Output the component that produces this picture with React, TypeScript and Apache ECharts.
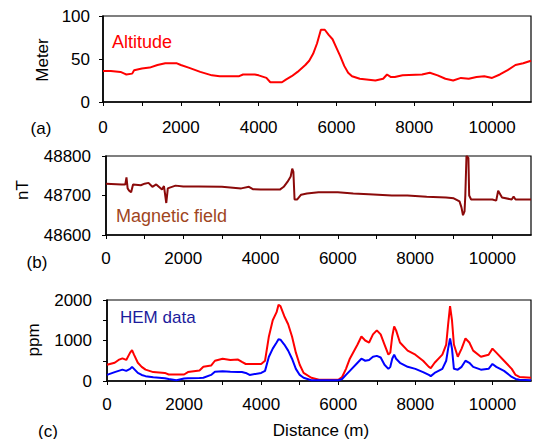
import React, { useEffect, useRef } from "react";
import * as echarts from "echarts";

// Panel (a): altitude
const altX = [0, 200, 450, 550, 600, 750, 800, 1000, 1200, 1400, 1600, 1900, 2000, 2200, 2500, 2800, 3000, 3500, 3600, 3900, 4000, 4200, 4300, 4600, 4700, 4850, 5000, 5200, 5300, 5400, 5500, 5600, 5700, 5800, 5900, 6000, 6100, 6200, 6300, 6400, 6600, 7000, 7200, 7300, 7400, 7500, 7700, 8200, 8400, 8600, 8800, 9000, 9200, 9400, 9600, 9800, 10000, 10200, 10400, 10600, 10800, 11000];
const altY = [36, 36, 35, 33, 32, 33, 37, 39, 40, 43, 45, 45, 43, 40, 35, 31, 30, 30, 32, 32, 31, 28, 23, 23, 26, 30, 35, 43, 48, 56, 68, 84, 84, 78, 73, 63, 53, 42, 34, 30, 27, 25, 27, 32, 29, 29, 31, 32, 34, 31, 27, 25, 28, 27, 29, 30, 28, 32, 37, 43, 45, 48];

// Panel (b): magnetic field
const magX = [0, 400, 500, 530, 560, 600, 650, 700, 900, 1000, 1100, 1200, 1300, 1450, 1500, 1560, 1600, 1650, 1800, 2000, 2400, 3000, 3500, 3700, 3800, 4000, 4500, 4600, 4700, 4780, 4820, 4850, 4880, 4950, 5050, 5200, 5500, 6000, 6400, 6800, 7400, 7800, 8300, 8800, 9000, 9150, 9200, 9240, 9280, 9300, 9330, 9380, 9400, 9450, 9500, 10000, 10100, 10150, 10250, 10500, 10550, 10600, 11000];
const magY = [48730, 48728, 48728, 48746, 48718, 48712, 48708, 48728, 48726, 48730, 48732, 48722, 48728, 48715, 48724, 48681, 48718, 48720, 48725, 48723, 48723, 48722, 48718, 48722, 48716, 48715, 48715, 48722, 48735, 48748, 48768, 48760, 48690, 48690, 48702, 48705, 48708, 48708, 48705, 48703, 48700, 48700, 48697, 48695, 48693, 48685, 48670, 48650, 48660, 48700, 48800, 48795, 48700, 48690, 48690, 48690, 48687, 48712, 48695, 48690, 48697, 48690, 48690];

// Panel (c): HEM data
const hemX = [0, 200, 300, 400, 500, 600, 650, 700, 800, 900, 1000, 1200, 1500, 1600, 1800, 2000, 2100, 2400, 2500, 2700, 2800, 3000, 3200, 3400, 3500, 3600, 3700, 4000, 4100, 4200, 4300, 4400, 4450, 4500, 4600, 4700, 4800, 4900, 5000, 5100, 5300, 5500, 6000, 6100, 6200, 6300, 6500, 6600, 6700, 6800, 6900, 7000, 7100, 7200, 7300, 7350, 7400, 7450, 7500, 7600, 7800, 8000, 8200, 8350, 8400, 8500, 8700, 8800, 8850, 8900, 8950, 9000, 9100, 9200, 9300, 9400, 9500, 9700, 9900, 10000, 10100, 10300, 10500, 10600, 10700, 11000];
const hemRed = [400, 450, 520, 560, 520, 700, 760, 650, 450, 350, 280, 220, 200, 160, 160, 160, 220, 260, 350, 380, 500, 550, 520, 530, 470, 420, 420, 420, 500, 1100, 1500, 1700, 1880, 1850, 1600, 1400, 1100, 700, 400, 200, 80, 30, 30, 100, 300, 550, 900, 1100, 1000, 950, 1150, 1250, 1150, 900, 650, 700, 1100, 1350, 1250, 950, 750, 650, 500, 350, 320, 450, 650, 900, 1400, 1850, 1500, 900, 600, 800, 1050, 950, 750, 600, 650, 800, 700, 500, 300, 150, 100, 80];
const hemBlue = [150, 220, 250, 280, 250, 300, 350, 300, 200, 150, 120, 90, 70, 50, 20, 60, 70, 75, 80, 150, 230, 240, 230, 225, 220, 200, 150, 200, 250, 600, 800, 950, 1030, 1020, 900, 750, 550, 300, 150, 80, 20, 20, 20, 50, 150, 250, 450, 550, 500, 520, 600, 620, 580, 400, 300, 350, 550, 650, 550, 450, 350, 300, 220, 150, 120, 200, 300, 500, 800, 1050, 800, 300, 280, 350, 500, 450, 350, 280, 300, 420, 350, 250, 100, 50, 30, 20];

const xTicksEvery = 2000;

const zip = (xs: number[], ys: number[]) => xs.map((x, i) => [x, ys[i]]);

const FONT = "Liberation Sans, Arial, sans-serif";
const FS = 17;

export default function App() {
  const ref = useRef<HTMLDivElement>(null);
  useEffect(() => {
    if (!ref.current) return;
    const chart = echarts.init(ref.current, undefined, { renderer: "svg" });
    const grids = [
      { left: 103, right: 3, top: 16, height: 86 },
      { left: 106, right: 3, top: 156, height: 79 },
      { left: 107, right: 3, top: 300, height: 81 },
    ].map((g) => ({ ...g, show: true, borderColor: "#000", borderWidth: 1.2, containLabel: false }));
    const labelMargins = [17, 15, 15];
    const xAxis = grids.map((_, i) => ({
      type: "value",
      gridIndex: i,
      min: 0,
      max: 11000,
      interval: 1000,
      axisLine: { show: true, lineStyle: { color: "#000", width: 1.6 } },
      axisTick: { show: true, inside: false, length: 4, lineStyle: { color: "#000", width: 1 } },
      splitLine: { show: false },
      axisLabel: {
        color: "#000",
        fontSize: FS,
        fontFamily: FONT,
        margin: labelMargins[i],
        showMaxLabel: false,
        formatter: (v: number) => (v % xTicksEvery === 0 ? String(v) : ""),
      },
    }));
    const yCommon = {
      type: "value",
      axisLine: { show: true, lineStyle: { color: "#000", width: 1.6 } },
      axisTick: { show: true, inside: false, length: 4, lineStyle: { color: "#000", width: 1 } },
      splitLine: { show: false },
    };
    const yAxis = [
      {
        ...yCommon, gridIndex: 0, min: 0, max: 100, interval: 50,
        axisLabel: { color: "#000", fontSize: FS, fontFamily: FONT, margin: 13, formatter: (v: number) => String(v) },
      },
      {
        ...yCommon, gridIndex: 1, min: 48600, max: 48800, interval: 100,
        axisLabel: { color: "#000", fontSize: FS, fontFamily: FONT, margin: 15, formatter: (v: number) => String(v) },
      },
      {
        ...yCommon, gridIndex: 2, min: 0, max: 2000, interval: 500,
        axisLabel: {
          color: "#000", fontSize: FS, fontFamily: FONT, margin: 15,
          formatter: (v: number) => (v % 1000 === 0 ? String(v) : ""),
        },
      },
    ];
    const lineBase = { type: "line", showSymbol: false, symbol: "none", silent: true };
    const txt = (x: number, y: number, text: string, fill: string, size: number = FS, extra: any = {}) => ({
      type: "text",
      x,
      y,
      style: { text, fill, font: `${size}px ${FONT}`, textVerticalAlign: "middle", ...extra },
    });
    chart.setOption({
      animation: false,
      grid: grids,
      xAxis,
      yAxis,
      series: [
        { ...lineBase, xAxisIndex: 0, yAxisIndex: 0, data: zip(altX, altY), lineStyle: { color: "#ff0000", width: 2 } },
        { ...lineBase, xAxisIndex: 1, yAxisIndex: 1, data: zip(magX, magY), lineStyle: { color: "#8b0a0a", width: 2 } },
        { ...lineBase, xAxisIndex: 2, yAxisIndex: 2, data: zip(hemX, hemRed), lineStyle: { color: "#ff0000", width: 2 } },
        { ...lineBase, xAxisIndex: 2, yAxisIndex: 2, data: zip(hemX, hemBlue), lineStyle: { color: "#0000ff", width: 2 } },
      ],
      graphic: [
        txt(112, 42, "Altitude", "#ff0000", 18),
        txt(116, 216, "Magnetic field", "#a0461e", 18),
        txt(120, 317, "HEM data", "#1c1c9c", 17),
        { ...txt(42, 60, "Meter", "#000", FS, { textAlign: "center" }), rotation: Math.PI / 2 },
        { ...txt(22, 190, "nT", "#000", FS, { textAlign: "center" }), rotation: Math.PI / 2 },
        { ...txt(33, 340, "ppm", "#000", FS, { textAlign: "center" }), rotation: Math.PI / 2 },
        txt(41, 128, "(a)", "#000", FS, { textAlign: "center" }),
        txt(37, 262, "(b)", "#000", FS, { textAlign: "center" }),
        txt(48, 431, "(c)", "#000", FS, { textAlign: "center" }),
        txt(321, 430, "Distance (m)", "#000", FS, { textAlign: "center" }),
      ],
    });
    return () => chart.dispose();
  }, []);
  return (
    <div
      ref={ref}
      style={{ position: "fixed", left: 0, top: 0, width: 534, height: 439, background: "#fff" }}
    />
  );
}
